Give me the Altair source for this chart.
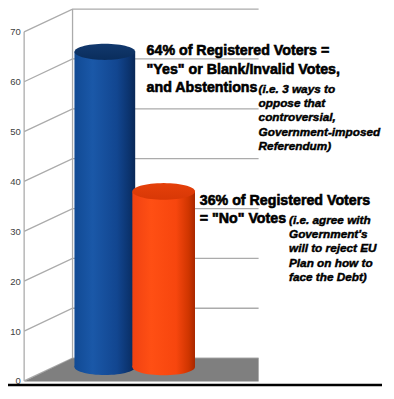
import altair as alt
import pandas as pd
import numpy as np

# ---------------- data ----------------
categories = ["Yes + Blank/Invalid + Abstentions", "No"]
values = [64, 36]
tick_values = [0, 10, 20, 30, 40, 50, 60, 70]

block1_bold = ["64% of Registered Voters =", '"Yes" or Blank/Invalid Votes,', "and Abstentions"]
block1_italic = ["(i.e. 3 ways to", "oppose that", "controversial,", "Government-imposed", "Referendum)"]
block2_bold = ["36% of Registered Voters", '= "No" Votes']
block2_italic = ["(i.e. agree with", "Government's", "will to reject EU", "Plan on how to", "face the Debt)"]

# ---------------- layout (reference pixel frame) ----------------
S = 0.95                 # scale from reference pixels to output pixels
REF_W, REF_H = 394, 399
Y0_REF = 392.7           # reference pixel row of value 0
PPU = 5.253              # reference pixels per value unit
X_AXIS = 17              # front axis
X_WALL = 68              # back wall left edge
X_END = 264              # back wall / floor right edge
DEPTH = 24 / PPU         # 3D depth offset in value units
BAR_X0 = [70, 131]
BAR_X1 = [134, 197]
TOP_C = 2.0
BOT_C = 2.8
ELL_RATIO = 17 / 64


def vy(ref_y):
    return (Y0_REF - ref_y) / PPU


y_scale = alt.Scale(domain=[vy(REF_H), vy(0)], nice=False, zero=False)
x_scale = alt.Scale(domain=[X_AXIS, REF_W], nice=False, zero=False)
y_axis = alt.Axis(values=tick_values, grid=False, ticks=False, domain=False, title=None,
                  labelFontSize=10 * S, labelColor="#404040", labelPadding=4 * S,
                  labelFont="Liberation Sans", format="d")


def X(f="x"):
    return alt.X(f"{f}:Q", scale=x_scale, axis=None)


def Y(f="y"):
    return alt.Y(f"{f}:Q", scale=y_scale, axis=y_axis)


# gridlines (side wall + back wall)
grid_rows = []
for v in tick_values:
    grid_rows += [
        {"g": v, "o": 0, "x": X_AXIS, "y": v},
        {"g": v, "o": 1, "x": X_WALL, "y": v + DEPTH},
        {"g": v, "o": 2, "x": X_END, "y": v + DEPTH},
    ]
grid = alt.Chart(pd.DataFrame(grid_rows)).mark_line(color="#ababab", strokeWidth=1.3).encode(
    x=X(), y=Y(), detail="g:N", order="o:Q")

walls = alt.Chart(pd.DataFrame([
    {"x": X_AXIS, "y": 0, "y2": max(tick_values)},
    {"x": X_WALL, "y": DEPTH, "y2": max(tick_values) + DEPTH},
])).mark_rule(color="#ababab", strokeWidth=1.3).encode(x=X(), y=Y(), y2="y2:Q")

floor = alt.Chart(pd.DataFrame([
    {"x": X_AXIS, "y": -0.1, "y2": -0.1},
    {"x": X_WALL, "y": DEPTH, "y2": -0.1},
    {"x": X_END, "y": DEPTH, "y2": -0.1},
])).mark_area(color="#7f7f7f", opacity=1).encode(x=X(), y=Y(), y2="y2:Q")

border = alt.Chart(pd.DataFrame([{"x": 0, "x2": REF_W, "y": vy(397)}])).mark_rule(
    color="black", strokeWidth=2.4).encode(x=X(), x2="x2:Q", y=Y())


def ellipse_path(ratio, n=60):
    pts = []
    for i in range(n):
        t = 2 * np.pi * i / n
        pts.append(f"{np.cos(t):.4f},{ratio * np.sin(t):.4f}")
    return "M" + " L".join(pts) + " Z"


ELL = ellipse_path(ELL_RATIO)


def hgrad(stops):
    return alt.LinearGradient(gradient="linear", x1=0, x2=1, y1=0, y2=0,
                              stops=[alt.GradientStop(color=c, offset=o) for o, c in stops])


def vgrad(stops):
    return alt.LinearGradient(gradient="linear", x1=0, x2=0, y1=0, y2=1,
                              stops=[alt.GradientStop(color=c, offset=o) for o, c in stops])


body_grads = [
    hgrad([(0, "#114a94"), (0.3, "#1a58a8"), (0.7, "#124690"), (0.9, "#0b336e"), (1, "#092857")]),
    hgrad([(0, "#f04212"), (0.3, "#ff4f14"), (0.7, "#f7460e"), (0.9, "#cf3500"), (1, "#a82800")]),
]
top_grads = [
    vgrad([(0, "#12396e"), (1, "#0a2d5c")]),
    vgrad([(0, "#e5400a"), (1, "#d83806")]),
]

bar_df = pd.DataFrame({
    "cat": categories,
    "value": values,
    "x": BAR_X0,
    "x2": BAR_X1,
})
bar_df["xc"] = (bar_df["x"] + bar_df["x2"]) / 2
bar_df["y"] = BOT_C
bar_df["y2"] = bar_df["value"] + TOP_C
bar_df["ytop"] = bar_df["value"] + TOP_C

bar_layers = []
for i, cat in enumerate(categories):
    w_px = (BAR_X1[i] - BAR_X0[i]) * S
    base = alt.Chart(bar_df).transform_filter(alt.datum.cat == cat)
    bottom = base.mark_point(shape=ELL, filled=True, size=w_px ** 2, opacity=1, strokeWidth=0,
                             fill=body_grads[i]).encode(x=X("xc"), y=Y("y"))
    body = base.mark_rect(fill=body_grads[i], strokeWidth=0).encode(x=X("x"), x2="x2:Q", y=Y("y"), y2="y2:Q")
    top = base.mark_point(shape=ELL, filled=True, size=w_px ** 2, opacity=1, strokeWidth=0,
                          fill=top_grads[i]).encode(x=X("xc"), y=Y("ytop"))
    bar_layers += [bottom, body, top]


# annotations
def text_df(lines, x, ys):
    return pd.DataFrame({"text": lines, "x": [x] * len(lines), "y": [vy(v) for v in ys]})


bold_df = pd.concat([
    text_df(block1_bold, 146, [45, 65, 84]),
    text_df(block2_bold, 202, [203, 222]),
])
ital_df = pd.concat([
    text_df(block1_italic, 264, [85, 100, 115, 130, 145]),
    text_df(block2_italic, 296, [223, 238, 253, 268, 283]),
])

bold_text = alt.Chart(bold_df).mark_text(align="left", baseline="middle", font="Liberation Sans",
                                         fontWeight="bold", fontSize=15 * S, color="black",
                                         stroke="black", strokeWidth=0.6).encode(
    x=X(), y=Y(), text="text:N")
ital_text = alt.Chart(ital_df).mark_text(align="left", baseline="middle", font="Liberation Sans",
                                         fontWeight="bold", fontStyle="italic", fontSize=12.4 * S,
                                         color="black", stroke="black", strokeWidth=0.45).encode(
    x=X(), y=Y(), text="text:N")

chart = alt.layer(grid, walls, floor, *bar_layers, bold_text, ital_text, border).properties(
    width=(REF_W - X_AXIS) * S,
    height=REF_H * S,
    autosize=alt.AutoSizeParams(type="none"),
    padding={"left": X_AXIS * S, "top": 0, "right": 4, "bottom": 0},
    background="white",
).configure_view(stroke=None)

chart.save("out.html", embed_options={"renderer": "svg", "actions": False})
